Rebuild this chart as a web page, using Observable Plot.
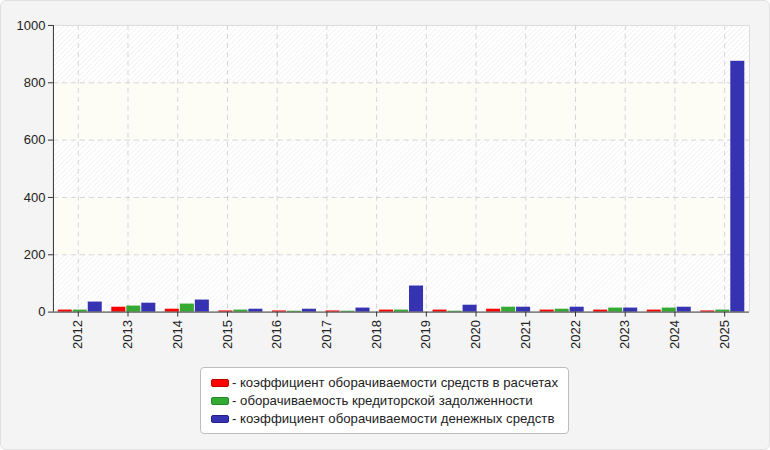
<!DOCTYPE html>
<html><head><meta charset="utf-8">
<script src="https://cdn.jsdelivr.net/npm/d3@7"></script>
<script src="https://cdn.jsdelivr.net/npm/@observablehq/plot@0.6"></script>
<style>
html,body{margin:0;padding:0;background:#fff;}
#wrap{position:relative;width:768px;height:448px;border:1px solid #e0e0e0;border-radius:6px;background:#f4f4f4;font-family:"Liberation Sans",Arial,sans-serif;overflow:hidden}
#chart{position:absolute;left:-1px;top:-1px}
#legend{position:absolute;left:199px;top:366px;width:369px;height:67px;background:#fff;border:1px solid #bdbdbd;border-radius:4px;font-size:13.2px;line-height:18px;color:#222;box-sizing:border-box;padding:6px 10px 0 10px}
.item{display:flex;align-items:center;height:18px;white-space:nowrap}
.sw{width:16px;height:6px;border-radius:2px;margin-right:3px;box-sizing:content-box}
</style></head><body>
<div id="wrap"><div id="chart"></div><div id="legend"></div></div>
<script>
const years = ["2012","2013","2014","2015","2016","2017","2018","2019","2020","2021","2022","2023","2024","2025"];
const seriesNames = [
  "коэффициент оборачиваемости средств в расчетах",
  "оборачиваемость кредиторской задолженности",
  "коэффициент оборачиваемости денежных средств"
];
const seriesColors = ["#ff0000", "#35aa33", "#3633b3"];
const seriesBorders = ["#c00000", "#218a20", "#222288"];
const receivables = [7, 17, 10, 4, 4, 4, 7, 7, 10, 7, 7, 7, 4];
const payables    = [7, 21, 28, 7, 3, 3, 7, 3, 17, 10, 14, 14, 7];
const cash        = [35, 31, 42, 10, 10, 14, 91, 24, 17, 17, 14, 17, 875];
const yTicks = [0, 200, 400, 600, 800, 1000];

const series = [receivables, payables, cash];
const nGroups = receivables.length;
const inset = 0.09, bw = 0.262, gap = 0.018;

const bars = [];
series.forEach((vals, s) => vals.forEach((v, i) => bars.push({i, s, value: v})));

const bands = [];
for (let k = 0; k < yTicks.length - 1; k++) bands.push({y1: yTicks[k], y2: yTicks[k + 1], hatch: k % 2 === 0});

const tickPos = years.map((_, k) => (k + 0.5) * nGroups / years.length);
const labelByPos = new Map(tickPos.map((p, k) => [p, years[k]]));

const chart = Plot.plot({
  width: 770, height: 360,
  marginLeft: 53, marginRight: 20, marginTop: 25, marginBottom: 48,
  style: {background: "transparent", color: "#222", fontSize: "13px", fontFamily: "'Liberation Sans', Arial, sans-serif"},
  x: {domain: [0, nGroups], axis: null},
  y: {domain: [0, 1000], axis: null},
  marks: [
    Plot.rect(bands.filter(d => d.hatch), {x1: 0, x2: nGroups, y1: "y1", y2: "y2", fill: "url(#hatch)"}),
    Plot.rect(bands.filter(d => !d.hatch), {x1: 0, x2: nGroups, y1: "y1", y2: "y2", fill: "#fdfdf6"}),
    Plot.gridX(tickPos, {stroke: "#d6d6d6", strokeOpacity: 1, strokeDasharray: "5,4"}),
    Plot.gridY(yTicks.slice(1, -1), {stroke: "#d6d6d6", strokeOpacity: 1, strokeDasharray: "5,4"}),
    Plot.rectY(bars, {
      x1: d => d.i + inset + d.s * (bw + gap),
      x2: d => d.i + inset + d.s * (bw + gap) + bw,
      y: "value",
      fill: d => seriesColors[d.s]
    }),
    Plot.ruleY([1000], {stroke: "#dcdcdc"}),
    Plot.ruleX([nGroups], {stroke: "#dcdcdc"}),
    Plot.ruleX([0], {stroke: "#333"}),
    Plot.ruleY([0], {stroke: "#333"}),
    Plot.axisY(yTicks, {tickSize: 5, tickPadding: 3, stroke: "#333", fontSize: 13, tickFormat: d => String(d)}),
    Plot.axisX(tickPos, {tickSize: 5, tickPadding: 3, tickRotate: -90, stroke: "#333", fontSize: 13, tickFormat: d => labelByPos.get(d)})
  ]
});

// hatch pattern definition
const ns = "http://www.w3.org/2000/svg";
const defs = document.createElementNS(ns, "defs");
defs.innerHTML = '<pattern id="hatch" width="5" height="5" patternUnits="userSpaceOnUse"><rect width="5" height="5" fill="#ffffff"/><path d="M-1,1 l2,-2 M0,5 l5,-5 M4,6 l2,-2" stroke="#efefef" stroke-width="1"/></pattern>';
chart.insertBefore(defs, chart.firstChild);
document.getElementById("chart").appendChild(chart);

const legend = document.getElementById("legend");
seriesNames.forEach((name, s) => {
  const item = document.createElement("div");
  item.className = "item";
  const sw = document.createElement("span");
  sw.className = "sw";
  sw.style.background = seriesColors[s];
  sw.style.border = "1px solid " + seriesBorders[s];
  item.appendChild(sw);
  item.appendChild(document.createTextNode("- " + name));
  legend.appendChild(item);
});
</script>
</body></html>
